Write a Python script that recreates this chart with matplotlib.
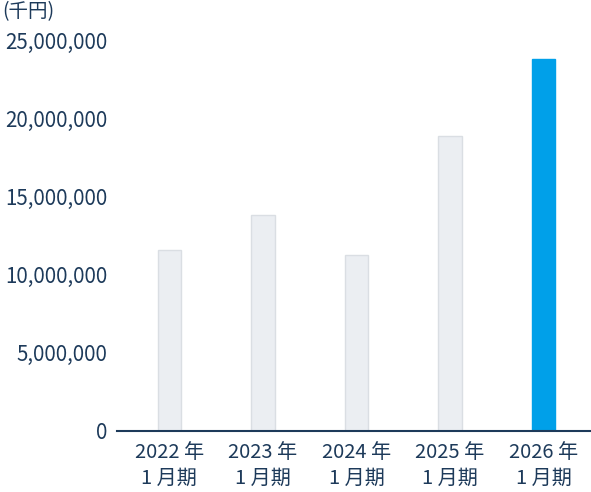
import numpy as np
import matplotlib.pyplot as plt

plt.rcParams['font.family'] = ['Noto Sans CJK JP', 'DejaVu Sans']

periods = ["2022 年\n1 月期", "2023 年\n1 月期", "2024 年\n1 月期", "2025 年\n1 月期", "2026 年\n1 月期"]
values = [11560000, 13800000, 11240000, 18850000, 23780000]
yticks = [0, 5000000, 10000000, 15000000, 20000000, 25000000]

text_col = "#1d3a5a"
fig = plt.figure(figsize=(5.91, 4.92), dpi=100)
ax = fig.add_axes([117/591, 61.5/492, 474/591, 390.5/492])

x = np.arange(len(periods))
colors = ["#ebeef2"] * 4 + ["#00a0e9"]
edges = ["#dadee3"] * 4 + ["#00a0e9"]
ax.bar(x, values, width=0.249, color=colors, edgecolor=edges, linewidth=1)

ax.set_xlim(-0.56, 4.507)
ax.set_ylim(0, 25000000)
ax.set_xticks(x)
ax.set_xticklabels(periods, fontsize=14.5, color=text_col, linespacing=1.3)
ax.set_yticks(yticks)
ax.set_yticklabels([f"{v:,}" for v in yticks], fontsize=14.8, color=text_col)
ax.tick_params(axis='both', length=0)
ax.tick_params(axis='y', pad=7)
ax.tick_params(axis='x', pad=8)

for s in ["top", "right", "left"]:
    ax.spines[s].set_visible(False)
ax.spines["bottom"].set_color(text_col)
ax.spines["bottom"].set_linewidth(1.5)

fig.text(0.003, 1 - 12/492, "(千円)", fontsize=14, color=text_col, va="center", ha="left")

fig.savefig("out.png", dpi=100)
